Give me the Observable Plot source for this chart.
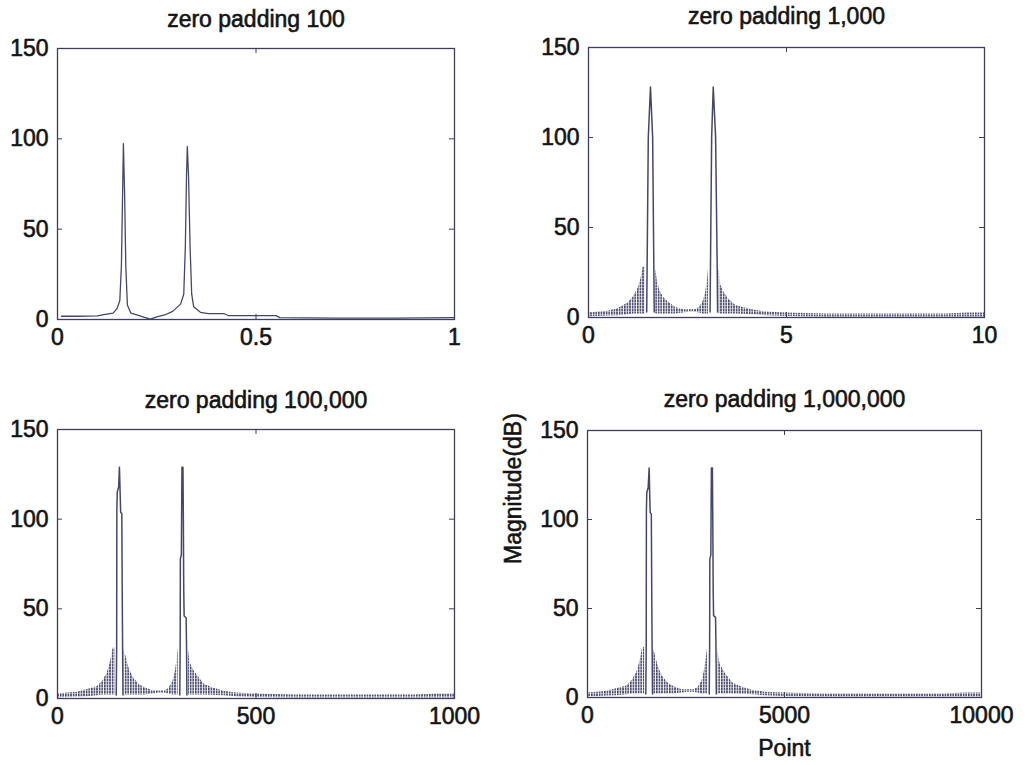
<!DOCTYPE html>
<html><head><meta charset="utf-8">
<script src="https://cdn.jsdelivr.net/npm/d3@7"></script>
<script src="https://cdn.jsdelivr.net/npm/@observablehq/plot@0.6"></script>
<style>
body{margin:0;background:#fff;}
#wrap{position:relative;width:1027px;height:765px;overflow:hidden;background:#fff}
#wrap svg{position:absolute;overflow:visible}
#wrap svg text{stroke:#141414;stroke-width:0.6px;paint-order:stroke}
</style></head><body><div id="wrap"></div>
<script>
// ---------- data ----------
const titles = ["zero padding 100", "zero padding 1,000", "zero padding 100,000", "zero padding 1,000,000"];
const yTicks = [0, 50, 100, 150];
const yLabels = ["0", "50", "100", "150"];
const p1XTicks = [0, 0.5, 1];       const p1XLabels = ["0", "0.5", "1"];
const p2XTicks = [0, 5, 10];        const p2XLabels = ["0", "5", "10"];
const p3XTicks = [0, 500, 1000];    const p3XLabels = ["0", "500", "1000"];
const p4XTicks = [0, 5000, 10000];  const p4XLabels = ["0", "5000", "10000"];
const yAxisTitle = "Magnitude(dB)";
const xAxisTitle = "Point";

// panel 1: smooth spectrum
const p1X = [0.01,0.05,0.1,0.12,0.14,0.15,0.157,0.161,0.164,0.166,0.169,0.172,0.176,0.185,0.2,0.217,0.234,0.25,0.27,0.29,0.31,0.318,0.322,0.325,0.327,0.33,0.334,0.338,0.343,0.36,0.38,0.42,0.43,0.5,0.55,0.56,0.7,0.85,1.0];
const p1Y = [1.8,1.8,2,2.8,3.5,6,10.5,30,70,97.4,70,30,8,3.5,2.5,1.3,0.2,1.5,2.5,4.5,8.5,14,40,80,95.8,80,40,14,7,4,3.3,3.2,2.2,2.2,2.1,1,0.8,0.8,1];

// panel 2: main lobes and side-lobe band
const p2SpikeX = [1.47,1.48,1.51,1.565,1.62,1.65,1.66, 2.4, 3.07,3.08,3.11,3.15,3.21,3.25,3.26];
const p2SpikeY = [3,28,100,128,100,28,3, null, 3,28,100,128,100,28,3];
const p2HatchX = [0,0.25,0.5,0.75,1.0,1.15,1.25,1.33,1.38,1.43,1.57,1.70,1.74,1.8,1.9,2.05,2.2,2.4,2.55,2.7,2.8,2.9,2.96,3.0,3.03,3.17,3.30,3.34,3.42,3.55,3.7,3.9,4.2,4.5,5.0,6,7,8,9,9.6,10];
const p2HatchHi = [2.5,3,3.5,5,8, 12,16,22,28,28, null,27,20,15,11, 8,5.5,4.3,4.3,4.3, 5.5,9,14,20,27, null,27,18,14,10, 7,5.5,4,3,2.5, 2,2,2,2,2.5, 2.5];
const p2HatchLo = [0.4,0.6,0.8,1,1.5, 2,2,2,2,2, null,2,2,2,2, 2,2,2.5,3,3, 2.5,2,2,2,2, null,2,2,2,2, 2,1.8,1.5,1,0.6, 0.3,0.3,0.3,0.3,0.3, 0.3];

// panel 3
const p3SpikeX = [148,149,149.5,150.5,154,156,158,159,162,163,164,165, 240, 308,309,309.5,312,313.5,316,317,318,319,324,325,326];
const p3SpikeY = [2,28,105,115,118,129,113,104,103,60,28,2, null, 2,30,78,80,129,129,100,60,46,45,30,2];
const p3HatchX = [0,25,50,75,100,115,125,133,140,145,156,168,172,180,190,205,220,240,255,270,280,290,296,300,304,318,330,334,342,355,370,390,420,450,500,600,700,800,900,960,1000];
const p3HatchHi = [2.5,3,3.5,5,6.5, 10,14,20,28,28, null,27,24,17,12, 8,6,4.3,4.3,4.3, 5.5,9,14,20,28, null,27,20,16,12, 8,6,4,3,2.5, 2,2,2,2,2.5, 2.5];
const p3HatchLo = [0.4,0.6,0.8,1,1.5, 2,2,2,2,2, null,2,2,2,2, 2,2,2.5,3,3, 2.5,2,2,2,2, null,2,2,2,2, 2,1.8,1.5,1,0.6, 0.3,0.3,0.3,0.3,0.3, 0.3];

// panel 4
const p4SpikeX = [1480,1490,1495,1505,1540,1565,1580,1590,1620,1630,1640,1650, 2400, 3090,3100,3105,3130,3145,3170,3180,3190,3200,3250,3260,3270];
const p4SpikeY = [2,28,105,115,118,129,113,104,103,60,28,2, null, 2,30,78,80,129,129,100,60,46,45,30,2];
const p4HatchX = [0,250,500,750,1000,1150,1250,1330,1400,1450,1560,1680,1720,1800,1900,2050,2200,2400,2550,2700,2800,2900,2960,3000,3050,3180,3310,3350,3430,3550,3700,3900,4200,4500,5000,6000,7000,8000,9000,9600,10000];
const p4HatchHi = [2.5,3,3.5,5,6.5, 10,14,20,28,28, null,27,24,17,12, 8,6,4.3,4.3,4.3, 5.5,9,14,20,28, null,27,20,16,12, 8,6,4,3,2.5, 2,2,2,2,2.5, 2.5];
const p4HatchLo = [0.4,0.6,0.8,1,1.5, 2,2,2,2,2, null,2,2,2,2, 2,2,2.5,3,3, 2.5,2,2,2,2, null,2,2,2,2, 2,1.8,1.5,1,0.6, 0.3,0.3,0.3,0.3,0.3, 0.3];

// ---------- drawing ----------
const INK = "#46466a", FRAME = "#3d3d5c", TEXT = "#141414";
const FONT = "'Liberation Sans', Arial, sans-serif";
const FS = 23;
const wrap = document.getElementById("wrap");

function toLine(xs, ys) { return xs.map((x, i) => ({x, y: ys[i]})); }
function toBand(xs, hi, lo) { return xs.map((x, i) => ({x, hi: hi[i], lo: lo[i]})); }

function panel(c) {
  const fw = c.W - c.ml - c.mr, fh = c.H - c.mt - c.mb;
  const marks = [];
  if (c.band) marks.push(Plot.areaY(c.band, {x: "x", y1: "lo", y2: "hi", fill: `url(#${c.id})`}));
  marks.push(Plot.line(c.line, {x: "x", y: "y", stroke: INK, strokeWidth: c.sw || 1.5}));
  marks.push(Plot.frame({stroke: FRAME, strokeWidth: 1.3}));
  marks.push(Plot.tickX(c.xTicks, {x: d => d, insetTop: fh - 5, stroke: FRAME}));
  marks.push(Plot.tickX(c.xTicks, {x: d => d, insetBottom: fh - 5, stroke: FRAME}));
  marks.push(Plot.tickY(yTicks, {y: d => d, insetRight: fw - 5, stroke: FRAME}));
  marks.push(Plot.tickY(yTicks, {y: d => d, insetLeft: fw - 5, stroke: FRAME}));
  marks.push(Plot.text([c.title], {text: d => d, frameAnchor: "top", dy: c.titleDy, lineAnchor: "middle", fill: TEXT, fontSize: FS}));
  if (c.extra) marks.push(...c.extra);
  const svg = Plot.plot({
    width: c.W, height: c.H,
    marginLeft: c.ml, marginRight: c.mr, marginTop: c.mt, marginBottom: c.mb,
    style: {fontFamily: FONT, fontSize: FS + "px", color: TEXT, background: "white", overflow: "visible"},
    x: {domain: c.xDomain, ticks: c.xTicks, tickFormat: d => c.xLabels[c.xTicks.indexOf(d)], tickSize: 0, tickPadding: 9, label: null},
    y: {domain: [0, 150], ticks: yTicks, tickFormat: d => yLabels[yTicks.indexOf(d)], tickSize: 0, tickPadding: 9, label: null},
    marks
  });
  const ns = "http://www.w3.org/2000/svg";
  const defs = document.createElementNS(ns, "defs");
  const pat = document.createElementNS(ns, "pattern");
  pat.setAttribute("id", c.id);
  pat.setAttribute("patternUnits", "userSpaceOnUse");
  pat.setAttribute("width", "2.6");
  pat.setAttribute("height", "3");
  const r = document.createElementNS(ns, "rect");
  r.setAttribute("x", "0"); r.setAttribute("y", "0");
  r.setAttribute("width", "1.6"); r.setAttribute("height", "2.6");
  r.setAttribute("fill", INK);
  pat.appendChild(r); defs.appendChild(pat);
  svg.insertBefore(defs, svg.firstChild);
  svg.style.position = "absolute";
  svg.style.left = c.left + "px";
  svg.style.top = c.top + "px";
  svg.style.maxWidth = "none";
  wrap.appendChild(svg);
}

panel({id: "h1", left: 0, top: 0, W: 500, H: 360, ml: 57, mr: 46, mt: 48, mb: 41,
  xDomain: [0, 1], xTicks: p1XTicks, xLabels: p1XLabels, title: titles[0], titleDy: -28.5,
  line: toLine(p1X, p1Y), sw: 1.3});

panel({id: "h2", left: 520, top: 0, W: 507, H: 360, ml: 68, mr: 43, mt: 47, mb: 43,
  xDomain: [0, 10], xTicks: p2XTicks, xLabels: p2XLabels, title: titles[1], titleDy: -30.5,
  line: toLine(p2SpikeX, p2SpikeY), band: toBand(p2HatchX, p2HatchHi, p2HatchLo)});

panel({id: "h3", left: 0, top: 370, W: 500, H: 395, ml: 57, mr: 46, mt: 59, mb: 67,
  xDomain: [0, 1000], xTicks: p3XTicks, xLabels: p3XLabels, title: titles[2], titleDy: -28.5,
  line: toLine(p3SpikeX, p3SpikeY), band: toBand(p3HatchX, p3HatchHi, p3HatchLo)});

panel({id: "h4", left: 500, top: 370, W: 527, H: 395, ml: 87, mr: 46, mt: 60, mb: 68,
  xDomain: [0, 10000], xTicks: p4XTicks, xLabels: p4XLabels, title: titles[3], titleDy: -31,
  line: toLine(p4SpikeX, p4SpikeY), band: toBand(p4HatchX, p4HatchHi, p4HatchLo),
  extra: [
    Plot.text([yAxisTitle], {text: d => d, frameAnchor: "left", dx: -74, rotate: -90, lineAnchor: "middle", fill: TEXT, fontSize: FS}),
    Plot.text([xAxisTitle], {text: d => d, frameAnchor: "bottom", dy: 51, lineAnchor: "middle", fill: TEXT, fontSize: FS})
  ]});
</script>
</body></html>
